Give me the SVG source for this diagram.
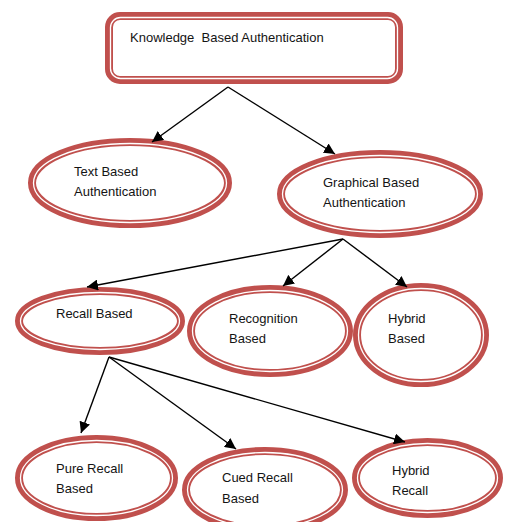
<svg xmlns="http://www.w3.org/2000/svg" width="506" height="522" viewBox="0 0 506 522">
<defs>
<style>
.o{fill:#fff;stroke:#C0504D;stroke-width:8}
.w{fill:none;stroke:#fff;stroke-width:1.3}
.t{font-family:"Liberation Sans",Arial,sans-serif;font-size:13px;fill:#141414}
.c{stroke:#000;stroke-width:1.4;fill:none;marker-end:url(#ah)}
</style>
<marker id="ah" viewBox="0 0 10 10" refX="10" refY="5" markerWidth="11" markerHeight="11" markerUnits="userSpaceOnUse" orient="auto">
<path d="M0,0 L10,5 L0,10 z" fill="#000"/>
</marker>
</defs>
<rect width="506" height="522" fill="#fff"/>
<g id="kba">
<rect class="o" x="109" y="16" width="290" height="64" rx="11"/>
<rect class="w" x="110.5" y="17.5" width="287" height="61" rx="10"/>
<text class="t" x="130" y="42" xml:space="preserve" style="white-space:pre">Knowledge  Based Authentication</text>
</g>
<g id="textbased">
<ellipse class="o" cx="130" cy="183" rx="98" ry="41"/>
<ellipse class="w" cx="130" cy="183" rx="96.5" ry="39.5"/>
<text class="t" x="74" y="176">Text Based</text>
<text class="t" x="74" y="196">Authentication</text>
</g>
<g id="graphical">
<ellipse class="o" cx="380" cy="194" rx="99" ry="40"/>
<ellipse class="w" cx="380" cy="194" rx="97.5" ry="38.5"/>
<text class="t" x="323" y="187">Graphical Based</text>
<text class="t" x="323" y="207">Authentication</text>
</g>
<g id="recall">
<ellipse class="o" cx="100" cy="321" rx="81" ry="30"/>
<ellipse class="w" cx="100" cy="321" rx="79.5" ry="28.5"/>
<text class="t" x="56" y="318">Recall Based</text>
</g>
<g id="recognition">
<ellipse class="o" cx="270" cy="331" rx="79" ry="42"/>
<ellipse class="w" cx="270" cy="331" rx="77.5" ry="40.5"/>
<text class="t" x="229" y="323">Recognition</text>
<text class="t" x="229" y="343">Based</text>
</g>
<g id="hybridbased">
<ellipse class="o" cx="421" cy="335" rx="64" ry="48"/>
<ellipse class="w" cx="421" cy="335" rx="62.5" ry="46.5"/>
<text class="t" x="388" y="323">Hybrid</text>
<text class="t" x="388" y="343">Based</text>
</g>
<g id="purerecall">
<ellipse class="o" cx="96.5" cy="478" rx="77.5" ry="39"/>
<ellipse class="w" cx="96.5" cy="478" rx="76" ry="37.5"/>
<text class="t" x="56" y="473">Pure Recall</text>
<text class="t" x="56" y="493">Based</text>
</g>
<g id="cuedrecall">
<ellipse class="o" cx="265" cy="490" rx="79" ry="39"/>
<ellipse class="w" cx="265" cy="490" rx="77.5" ry="37.5"/>
<text class="t" x="222" y="482">Cued Recall</text>
<text class="t" x="222" y="503">Based</text>
</g>
<g id="hybridrecall">
<ellipse class="o" cx="427.5" cy="478" rx="71.5" ry="36"/>
<ellipse class="w" cx="427.5" cy="478" rx="70" ry="34.5"/>
<text class="t" x="392" y="475">Hybrid</text>
<text class="t" x="392" y="495">Recall</text>
</g>
<g id="connectors">
<line class="c" x1="228" y1="87" x2="152" y2="142"/>
<line class="c" x1="228" y1="87" x2="335" y2="154"/>
<line class="c" x1="343" y1="239" x2="87" y2="287"/>
<line class="c" x1="343" y1="239" x2="283" y2="286"/>
<line class="c" x1="343" y1="239" x2="407" y2="287"/>
<line class="c" x1="109" y1="357" x2="81" y2="433"/>
<line class="c" x1="109" y1="357" x2="236" y2="449"/>
<line class="c" x1="109" y1="357" x2="405" y2="442"/>
</g>
</svg>
